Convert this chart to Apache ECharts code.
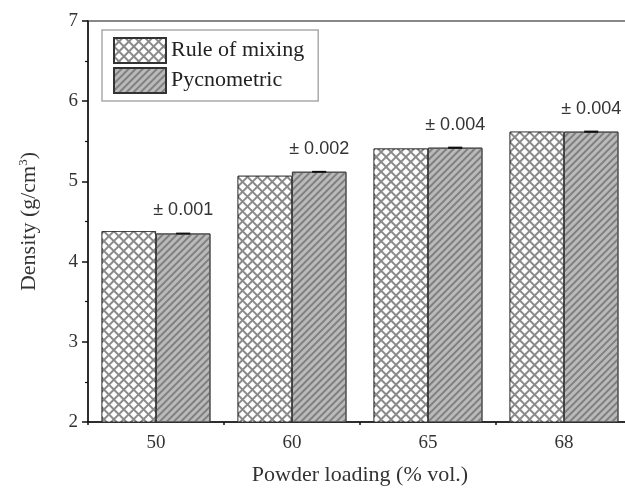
<!DOCTYPE html>
<html>
<head>
<meta charset="utf-8">
<script src="https://cdn.jsdelivr.net/npm/echarts@6/dist/echarts.min.js"></script>
<style>
html,body{margin:0;padding:0;background:#fff;}
#chart{width:625px;height:496px;}
</style>
</head>
<body>
<div id="chart"></div>
<script>
const categories = ['50', '60', '65', '68'];
const ruleOfMixing = [4.38, 5.07, 5.41, 5.62];
const pycnometric = [4.35, 5.12, 5.42, 5.62];
const pycnoErrors = [0.001, 0.002, 0.004, 0.004];
const seriesNames = ['Rule of mixing', 'Pycnometric'];

const serif = '"Liberation Serif", "Times New Roman", serif';
const sans = '"Liberation Sans", Arial, sans-serif';

const chart = echarts.init(document.getElementById('chart'), null, {renderer: 'canvas'});

const option = {
  animation: false,
  backgroundColor: '#fff',
  grid: {
    left: 88, top: 21, width: 544, height: 401,
    outerBoundsMode: 'none',
    containLabel: false,
    show: true, borderColor: '#888', borderWidth: 2, backgroundColor: 'transparent'
  },
  legend: {
    data: seriesNames,
    orient: 'vertical',
    left: 102, top: 30,
    itemWidth: 52, itemHeight: 25, itemGap: 3,
    padding: [7, 14, 7, 11],
    borderColor: '#aaa', borderWidth: 1.5,
    icon: 'rect',
    textStyle: {fontFamily: serif, fontSize: 22, color: '#222'}
  },
  xAxis: [{
    type: 'category',
    data: categories,
    name: 'Powder loading (% vol.)',
    nameLocation: 'middle',
    nameGap: 42,
    nameTextStyle: {fontFamily: serif, fontSize: 22, color: '#333'},
    axisLine: {lineStyle: {color: '#111', width: 1.5}},
    axisTick: {alignWithLabel: true, length: 6, lineStyle: {color: '#111', width: 1.5}},
    axisLabel: {fontFamily: serif, fontSize: 19, color: '#333', margin: 12},
    splitLine: {show: false}
  }, {
    type: 'value',
    position: 'bottom',
    min: 0, max: 4, interval: 1,
    axisLine: {show: false},
    axisTick: {show: true, length: 3, lineStyle: {color: '#111', width: 1.5}},
    axisLabel: {show: false},
    splitLine: {show: false}
  }],
  yAxis: {
    type: 'value',
    min: 2, max: 7, interval: 1,
    name: 'Density (g/cm{sup|3})',
    nameLocation: 'middle',
    nameGap: 46,
    nameTextStyle: {
      fontFamily: serif, fontSize: 22, color: '#333',
      rich: {sup: {fontFamily: serif, fontSize: 13, color: '#333', padding: [0, 0, 12, 0]}}
    },
    axisLine: {show: true, lineStyle: {color: '#111', width: 1.5}},
    axisTick: {show: true, length: 6, lineStyle: {color: '#111', width: 1.5}},
    minorTick: {show: true, splitNumber: 2, length: 3, lineStyle: {color: '#111', width: 1.2}},
    axisLabel: {fontFamily: serif, fontSize: 19, color: '#333', margin: 10},
    splitLine: {show: false}
  },
  series: [{
    name: seriesNames[0],
    type: 'bar',
    data: ruleOfMixing,
    barGap: '0%',
    barCategoryGap: '20%',
    itemStyle: {
      color: '#8a8a8a',
      borderColor: '#333', borderWidth: 0.8,
      decal: {
        symbol: 'rect',
        color: '#ffffff',
        dashArrayX: [4.6, 1.1],
        dashArrayY: [4.6, 1.1],
        rotation: Math.PI / 4
      }
    }
  }, {
    name: seriesNames[1],
    type: 'bar',
    data: pycnometric,
    itemStyle: {
      color: '#bababa',
      borderColor: '#333', borderWidth: 0.8,
      decal: {
        symbol: 'rect',
        color: '#808080',
        dashArrayX: [1, 0],
        dashArrayY: [1.2, 2.3],
        rotation: -Math.PI / 4
      }
    },
    label: {
      show: true,
      position: 'top',
      distance: 14,
      fontFamily: sans, fontSize: 18, color: '#333',
      formatter: function (p) { return '\u00b1 ' + pycnoErrors[p.dataIndex].toFixed(3); }
    }
  }, {
    name: 'errors',
    type: 'custom',
    data: pycnometric.map(function (v, i) { return [i, v, pycnoErrors[i]]; }),
    z: 5,
    renderItem: function (params, api) {
      const i = api.value(0), v = api.value(1), e = api.value(2);
      const band = api.size([1, 0])[0];
      const off = band * 0.2;
      const lo = api.coord([i, v - e]);
      const hi = api.coord([i, v + e]);
      const x = lo[0] + off;
      const cap = 7;
      const st = {stroke: '#111', lineWidth: 1.5};
      return {
        type: 'group',
        children: [
          {type: 'line', shape: {x1: x, y1: lo[1], x2: x, y2: hi[1]}, style: st},
          {type: 'line', shape: {x1: x - cap, y1: hi[1], x2: x + cap, y2: hi[1]}, style: st},
          {type: 'line', shape: {x1: x - cap, y1: lo[1], x2: x + cap, y2: lo[1]}, style: st}
        ]
      };
    }
  }]
};
chart.setOption(option);
</script>
</body>
</html>
